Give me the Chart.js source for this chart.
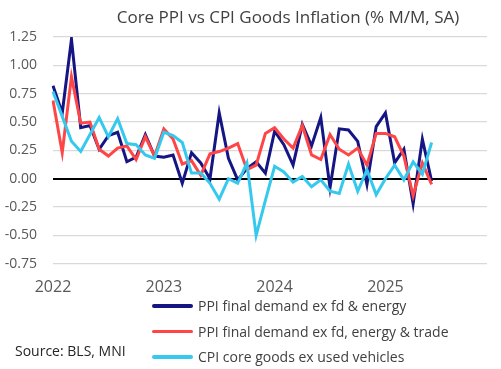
<!DOCTYPE html>
<html>
<head>
<meta charset="utf-8">
<script src="https://cdn.jsdelivr.net/npm/chart.js@4"></script>
<style>
  body { margin: 0; background: #fff; }
  #wrap { position: relative; width: 501px; height: 369px; font-family: "Open Sans", sans-serif; }
  #title { position: absolute; top: 5px; left: 288px; transform: translateX(-50%); white-space: nowrap; font-size: 17px; color: #404040; }
  #legend { position: absolute; left: 152px; top: 293px; }
  .row { display: flex; align-items: center; height: 25.5px; font-size: 14px; color: #404040; white-space: nowrap; }
  .swatch { width: 41px; height: 3.5px; margin-right: 5px; border-radius: 2px; }
  #source { position: absolute; left: 15px; top: 341px; font-size: 14px; color: #262626; }
</style>
</head>
<body>
<div id="wrap">
  <canvas id="chart" width="501" height="369"></canvas>
  <div id="title">Core PPI vs CPI Goods Inflation (% M/M, SA)</div>
  <div id="legend"></div>
  <div id="source">Source: BLS, MNI</div>
</div>
<script>
const years = ['2022', '2023', '2024', '2025'];
const monthNames = ['Jan', 'Feb', 'Mar', 'Apr', 'May', 'Jun', 'Jul', 'Aug', 'Sep', 'Oct', 'Nov', 'Dec'];
const months = years.flatMap(y => monthNames.map(m => m + ' ' + y));

const seriesNames = [
    'PPI final demand ex fd & energy',
    'PPI final demand ex fd, energy & trade',
    'CPI core goods ex used vehicles'
];
const seriesColors = ['#151584', '#ff4545', '#35c9ee'];

// Jan 2022 .. Jun 2025
const ppiCore = [
    0.82, 0.58, 1.23, 0.45, 0.47, 0.26, 0.38, 0.41, 0.15, 0.19, 0.39, 0.20,
    0.19, 0.21, -0.04, 0.23, 0.14, 0.00, 0.58, 0.18, -0.01, 0.09, 0.15, 0.05,
    0.42, 0.30, 0.12, 0.48, 0.29, 0.54, -0.08, 0.44, 0.43, 0.33, -0.05, 0.46,
    0.58, 0.14, 0.26, -0.22, 0.35, -0.02
];
const ppiCoreExTrade = [
    0.69, 0.23, 0.90, 0.49, 0.50, 0.26, 0.20, 0.27, 0.29, 0.17, 0.37, 0.20,
    0.44, 0.35, 0.13, 0.16, 0.03, 0.22, 0.24, 0.27, 0.31, 0.08, 0.12, 0.40,
    0.45, 0.35, 0.27, 0.47, 0.21, 0.17, 0.39, 0.26, 0.21, 0.27, 0.12, 0.40,
    0.40, 0.37, 0.20, -0.15, 0.14, -0.05
];
const cpiCoreGoods = [
    0.77, 0.55, 0.33, 0.24, 0.39, 0.54, 0.37, 0.53, 0.31, 0.30, 0.21, 0.18,
    0.41, 0.38, 0.32, 0.05, 0.05, -0.04, -0.18, 0.00, -0.04, 0.14, -0.50, -0.19,
    0.11, 0.06, -0.03, 0.02, -0.07, -0.01, -0.11, -0.13, 0.13, -0.11, 0.08, -0.14,
    0.00, 0.12, -0.01, 0.15, 0.04, 0.32
];
const seriesData = [ppiCore, ppiCoreExTrade, cpiCoreGoods];

const ctx = document.getElementById('chart');

const chart = new Chart(ctx, {
    type: 'line',
    data: {
        labels: months,
        datasets: seriesData.map((data, i) => ({
            label: seriesNames[i],
            data,
            borderColor: seriesColors[i],
            backgroundColor: seriesColors[i],
            borderWidth: 3,
            pointRadius: 0,
            tension: 0,
            order: 3 - i
        }))
    },
    options: {
        responsive: false,
        animation: false,
        layout: { padding: { top: 37, right: 14, bottom: 58, left: 0 } },
        plugins: {
            legend: { display: false },
            tooltip: { enabled: false }
        },
        scales: {
            x: {
                grid: { display: false, drawTicks: false },
                border: { display: false },
                ticks: {
                    autoSkip: false,
                    maxRotation: 0,
                    padding: 14,
                    color: '#595959',
                    font: { family: 'Open Sans', size: 16 },
                    callback: (v, i) => i % 12 === 0 ? years[i / 12] : ''
                }
            },
            y: {
                min: -0.75,
                max: 1.25,
                afterFit: scale => { scale.width = 53; },
                border: { display: false },
                grid: {
                    drawTicks: false,
                    color: c => c.tick.value === 0 ? '#000000' : '#d9d9d9',
                    lineWidth: c => c.tick.value === 0 ? 2 : 1.3
                },
                ticks: {
                    stepSize: 0.25,
                    padding: 16,
                    color: '#595959',
                    font: { family: 'Open Sans', size: 14 },
                    callback: v => v.toFixed(2)
                }
            }
        }
    }
});

const legend = document.getElementById('legend');
seriesNames.forEach((name, i) => {
    const row = document.createElement('div');
    row.className = 'row';
    const sw = document.createElement('span');
    sw.className = 'swatch';
    sw.style.background = seriesColors[i];
    const txt = document.createElement('span');
    txt.textContent = name;
    row.appendChild(sw);
    row.appendChild(txt);
    legend.appendChild(row);
});
</script>
</body>
</html>
